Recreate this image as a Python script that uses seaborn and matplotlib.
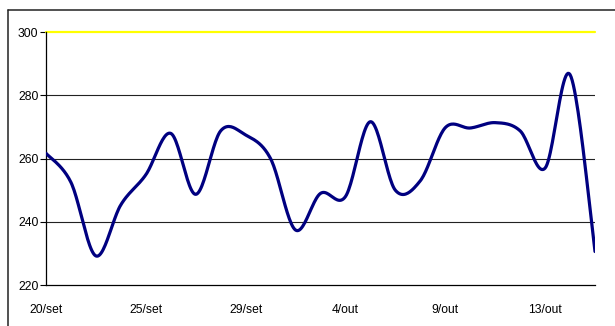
import numpy as np
import pandas as pd
import matplotlib
matplotlib.use("Agg")
import matplotlib.pyplot as plt
from matplotlib.lines import Line2D
import seaborn as sns

# Daily readings (one value per category on the x axis)
readings = [261.7, 252.5, 229.2, 245.4, 254.9, 268.0, 248.7, 268.8, 267.5, 260.0,
            237.4, 249.0, 248.0, 271.7, 250.0, 253.0, 269.8, 269.7, 271.4, 268.8,
            257.0, 286.6, 230.6]
# Labels shown on the category axis, one every `label_step` readings
date_labels = ["20/set", "25/set", "29/set", "4/out", "9/out", "13/out"]
label_step = 4
y_ticks = [220, 240, 260, 280, 300]
limit_value = 300


def smooth_curve(xv, yv, steps=24):
    """Catmull-Rom style smoothing (like a spreadsheet's smoothed line)."""
    px = np.concatenate([[xv[0]], xv, [xv[-1]]]).astype(float)
    py = np.concatenate([[yv[0]], yv, [yv[-1]]]).astype(float)
    out_x, out_y = [], []
    t = np.linspace(0, 1, steps, endpoint=False)
    for i in range(len(xv) - 1):
        for p, out in ((px, out_x), (py, out_y)):
            p0, p1, p2, p3 = p[i], p[i + 1], p[i + 2], p[i + 3]
            c1 = p1 + (p2 - p0) / 6.0
            c2 = p2 - (p3 - p1) / 6.0
            b = ((1 - t) ** 3 * p1 + 3 * (1 - t) ** 2 * t * c1
                 + 3 * (1 - t) * t ** 2 * c2 + t ** 3 * p2)
            out.extend(b)
    out_x.append(xv[-1])
    out_y.append(yv[-1])
    return np.array(out_x), np.array(out_y)


sns.set_style("white")
plt.rcParams["font.family"] = ["Liberation Sans", "DejaVu Sans"]

positions = np.arange(len(readings))
sx, sy = smooth_curve(positions, np.array(readings))
curve = pd.DataFrame({"pos": sx, "value": sy})

fig = plt.figure(figsize=(6.15, 3.26), dpi=100)
fig.patch.set_facecolor("white")
fig.patch.set_edgecolor("white")
fig.patch.set_linewidth(0)
ax = fig.add_axes([46 / 615, 41 / 326, 549 / 615, 252.7 / 326])

sns.lineplot(data=curve, x="pos", y="value", color="#000080", linewidth=2.3,
             estimator=None, sort=False, ax=ax, zorder=3)

ax.set_xlim(0, len(readings) - 1)
ax.set_ylim(y_ticks[0], y_ticks[-1])
ax.set_xticks(positions[::label_step][:len(date_labels)])
ax.set_xticklabels(date_labels)
ax.set_yticks(y_ticks)
ax.set_xlabel("")
ax.set_ylabel("")

# Horizontal gridlines and the limit line at the top
for v in y_ticks[1:-1]:
    ax.axhline(v, color="#222222", linewidth=0.8, zorder=1)
ax.axhline(limit_value, color="#FFFF00", linewidth=1.6, zorder=2, clip_on=False)

for side in ("top", "right"):
    ax.spines[side].set_visible(False)
for side in ("left", "bottom"):
    ax.spines[side].set_color("black")
    ax.spines[side].set_linewidth(0.9)

ax.tick_params(axis="y", direction="out", length=4, width=0.8, color="black",
               pad=1.5, labelsize=8.7, labelcolor="black", left=True)
ax.tick_params(axis="x", length=0, pad=14, labelsize=8.7, labelcolor="black")

# Chart frame (left and top edges; the rest runs off the canvas)
frame_x = 7.5 / 615
frame_y = 1 - 9.5 / 326
fig.add_artist(Line2D([frame_x, frame_x], [0, frame_y], transform=fig.transFigure,
                      color="#222222", linewidth=1.1))
fig.add_artist(Line2D([frame_x, 1.01], [frame_y, frame_y], transform=fig.transFigure,
                      color="#222222", linewidth=1.1))

fig.savefig("out.png", dpi=100, facecolor="white", edgecolor="white")
